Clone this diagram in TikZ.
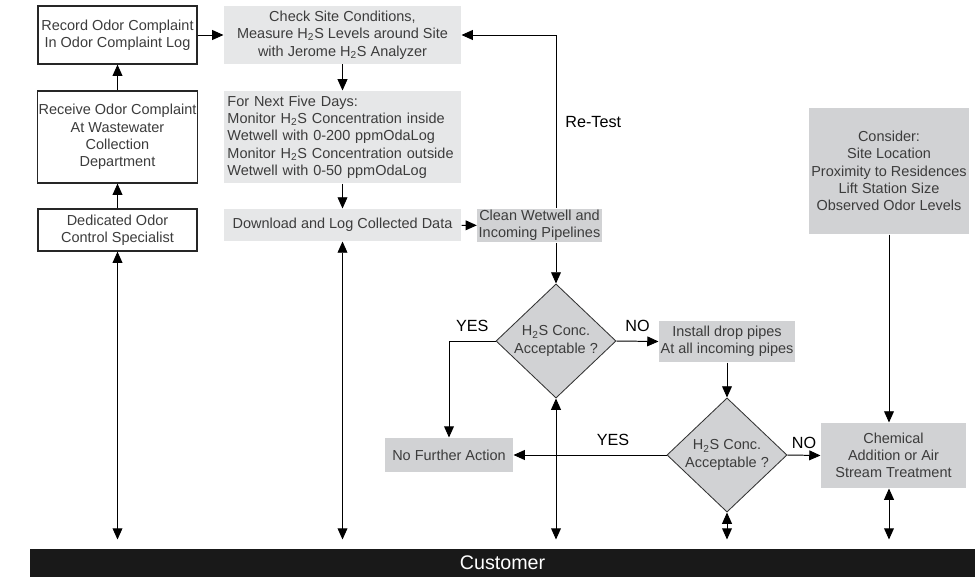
\documentclass[tikz,border=0pt]{standalone}
\usepackage{fontspec}
\setmainfont{Liberation Sans}
\usetikzlibrary{shapes.geometric,arrows.meta}
\definecolor{lightbox}{HTML}{E6E7E8}
\definecolor{darkbox}{HTML}{D1D2D4}
\definecolor{boxtext}{HTML}{3C3C3C}
\begin{document}
\begin{tikzpicture}[x=0.025cm,y=-0.025cm,
  every node/.style={font=\fontsize{10.3}{12.3}\selectfont, text=boxtext},
  >={Triangle[length=8pt,width=7pt]}, line width=0.7pt,
  whitebox/.style={draw=black!85, line width=0.9pt, fill=white, align=center, inner sep=1pt},
  lightstep/.style={fill=lightbox, align=center, inner sep=1pt},
  darkstep/.style={fill=darkbox, align=center, inner sep=1pt},
  decision/.style={diamond, draw=black!80, line width=0.6pt, fill=darkbox, align=center, inner sep=0pt, minimum width=3cm, minimum height=2.85cm},
  answer/.style={font=\fontsize{11.5}{13}\selectfont, text=black}]
\useasboundingbox (0,0) rectangle (977,577);
\node[whitebox, minimum width=3.975cm, minimum height=1.45cm] (record) at (117.5,35) {Record Odor Complaint\\In Odor Complaint Log};
\node[whitebox, minimum width=3.975cm, minimum height=2.3cm] (receive) at (117.5,137) {Receive Odor Complaint\\At Wastewater\\Collection\\Department};
\node[whitebox, minimum width=3.975cm, minimum height=1.05cm] (specialist) at (117.5,230) {Dedicated Odor\\Control Specialist};
\node[lightstep, minimum width=5.925cm, minimum height=1.45cm] (check) at (342.5,35) {Check Site Conditions,\\Measure H\textsubscript{2}S Levels around Site\\with Jerome H\textsubscript{2}S Analyzer};
\node[lightstep, minimum width=5.925cm, minimum height=2.3cm, align=left, text width=5.75cm] (monitor) at (342.5,137) {For Next Five Days:\\Monitor H\textsubscript{2}S Concentration inside\\Wetwell with 0-200 ppmOdaLog\\Monitor H\textsubscript{2}S Concentration outside\\Wetwell with 0-50 ppmOdaLog};
\node[lightstep, minimum width=5.925cm, minimum height=0.8cm] (download) at (342.5,225) {Download and Log Collected Data};
\node[darkstep, minimum width=2.625cm, minimum height=0.825cm] (clean) at (539.5,225.5) {Clean Wetwell and\\Incoming Pipelines};
\node[decision] (test1) at (556,341) {H\textsubscript{2}S Conc.\\Acceptable ?};
\node[darkstep, minimum width=3.4cm, minimum height=1.025cm] (droppipes) at (727,341.5) {Install drop pipes\\At all incoming pipes};
\node[decision] (test2) at (727,455) {H\textsubscript{2}S Conc.\\Acceptable ?};
\node[darkstep, minimum width=3.2cm, minimum height=0.85cm] (noaction) at (449,455) {No Further Action};
\node[darkstep, minimum width=3.625cm, minimum height=1.625cm] (treatment) at (893.5,455.5) {Chemical\\Addition or Air\\Stream Treatment};
\node[darkstep, minimum width=4cm, minimum height=3.15cm] (consider) at (889,171) {Consider:\\Site Location\\Proximity to Residences\\Lift Station Size\\Observed Odor Levels};
\node[fill=black!90, minimum width=23.625cm, minimum height=0.7cm, text=white, font=\fontsize{14}{16}\selectfont] (customer) at (502.5,563) {Customer};

\draw[->] (specialist) -- (receive);
\draw[->] (receive) -- (record);
\draw[->] (record) -- (check);
\draw[->] (check) -- (monitor);
\draw[->] (monitor) -- (download);
\draw[->] (download) -- (clean);
\draw[->] (test1.north |- clean.north) |- (check.east) node[pos=0.25, right=3pt, answer] {Re-Test};
\draw[->] (test1.north |- clean.south) -- (test1.north);
\draw[->] (test1.west) -| (noaction.north) node[pos=0.25, above=3pt, answer] {YES};
\draw[->] (test1.east) -- (droppipes.west) node[midway, above=3pt, answer] {NO};
\draw[->] (droppipes.south) -- (test2.north);
\draw[->] (test2.west) -- (noaction.east) node[pos=0.35, above=3pt, answer] {YES};
\draw[->] (test2.east) -- (treatment.west) node[midway, above=1pt, answer] {NO};
\draw[->] (consider.south) -- (consider.south |- treatment.north);
\draw[<->, shorten >=0.225cm] (specialist.south) -- (specialist.south |- customer.north);
\draw[<->, shorten >=0.225cm] (download.south) -- (download.south |- customer.north);
\draw[<->, shorten >=0.225cm] (test1.south) -- (test1.south |- customer.north);
\draw[<->, shorten >=0.225cm] (test2.south) -- (test2.south |- customer.north);
\draw[<->, shorten >=0.225cm] (consider.south |- treatment.south) -- (consider.south |- customer.north);
\end{tikzpicture}
\end{document}
